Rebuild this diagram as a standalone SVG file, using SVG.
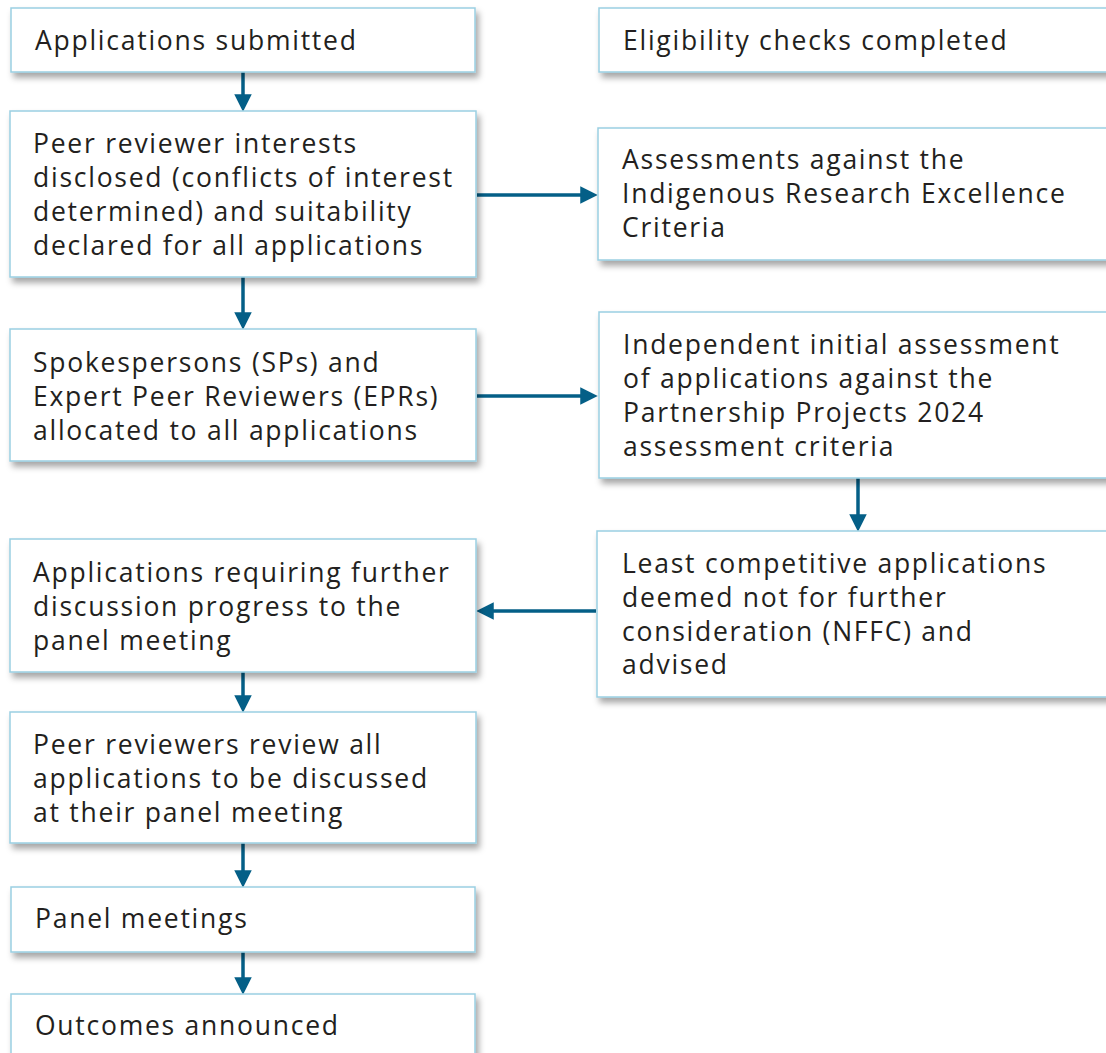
<svg xmlns="http://www.w3.org/2000/svg" width="1106" height="1053" viewBox="0 0 1106 1053">
<defs>
<filter id="sh" x="-5%" y="-10%" width="115%" height="130%">
<feDropShadow dx="3" dy="5" stdDeviation="3" flood-color="#000" flood-opacity="0.35"/>
</filter>
<marker id="ah" markerWidth="5" markerHeight="5" refX="2.5" refY="2.5" orient="auto" markerUnits="strokeWidth" viewBox="0 0 5 5">
<path d="M0,0 L5,2.5 L0,5 Z" fill="#045f87"/>
</marker>
<style>
.box{fill:#fff;stroke:#9acfe2;stroke-width:1.5;filter:url(#sh)}
.t{font-family:"Open Sans","Liberation Sans",sans-serif;font-size:26.5px;letter-spacing:1.75px;fill:#231f20}
.c{stroke:#045f87;stroke-width:3.5;fill:none;marker-end:url(#ah)}
</style>
</defs>
<rect width="1106" height="1053" fill="#fff"/>
<g id="connectors">
<line class="c" x1="243" y1="72" x2="243" y2="103"/>
<line class="c" x1="243" y1="277" x2="243" y2="321"/>
<line class="c" x1="477" y1="195" x2="589" y2="195"/>
<line class="c" x1="477" y1="396" x2="589" y2="396"/>
<line class="c" x1="858" y1="478" x2="858" y2="523"/>
<line class="c" x1="596" y1="611" x2="485" y2="611"/>
<line class="c" x1="243" y1="672" x2="243" y2="704"/>
<line class="c" x1="243" y1="843" x2="243" y2="879"/>
<line class="c" x1="243" y1="952" x2="243" y2="986"/>
</g>
<g id="n1"><rect class="box" x="11" y="8" width="464" height="64"/>
<text class="t" x="35" y="50">Applications submitted</text></g>
<g id="n2"><rect class="box" x="10" y="111" width="466" height="166"/>
<text class="t" x="33" y="153">Peer reviewer interests</text>
<text class="t" x="33" y="187">disclosed (conflicts of interest</text>
<text class="t" x="33" y="221">determined) and suitability</text>
<text class="t" x="33" y="255">declared for all applications</text></g>
<g id="n3"><rect class="box" x="10" y="329" width="466" height="132"/>
<text class="t" x="33" y="372">Spokespersons (SPs) and</text>
<text class="t" x="33" y="406">Expert Peer Reviewers (EPRs)</text>
<text class="t" x="33" y="440">allocated to all applications</text></g>
<g id="n4"><rect class="box" x="10" y="539" width="466" height="133"/>
<text class="t" x="33" y="582">Applications requiring further</text>
<text class="t" x="33" y="616">discussion progress to the</text>
<text class="t" x="33" y="650">panel meeting</text></g>
<g id="n5"><rect class="box" x="10" y="712" width="466" height="131"/>
<text class="t" x="33" y="754">Peer reviewers review all</text>
<text class="t" x="33" y="788">applications to be discussed</text>
<text class="t" x="33" y="822">at their panel meeting</text></g>
<g id="n6"><rect class="box" x="11" y="887" width="464" height="65"/>
<text class="t" x="35" y="928">Panel meetings</text></g>
<g id="n7"><rect class="box" x="11" y="994" width="464" height="80"/>
<text class="t" x="35" y="1035">Outcomes announced</text></g>
<g id="r1"><rect class="box" x="599" y="8" width="520" height="64"/>
<text class="t" x="623" y="50">Eligibility checks completed</text></g>
<g id="r2"><rect class="box" x="598" y="128" width="520" height="132"/>
<text class="t" x="622" y="169">Assessments against the</text>
<text class="t" x="622" y="203">Indigenous Research Excellence</text>
<text class="t" x="622" y="237">Criteria</text></g>
<g id="r3"><rect class="box" x="599" y="312" width="520" height="166"/>
<text class="t" x="623" y="354">Independent initial assessment</text>
<text class="t" x="623" y="388">of applications against the</text>
<text class="t" x="623" y="422">Partnership Projects 2024</text>
<text class="t" x="623" y="456">assessment criteria</text></g>
<g id="r4"><rect class="box" x="597" y="531" width="520" height="166"/>
<text class="t" x="622" y="573">Least competitive applications</text>
<text class="t" x="622" y="607">deemed not for further</text>
<text class="t" x="622" y="641">consideration (NFFC) and</text>
<text class="t" x="622" y="674">advised</text></g>
</svg>
